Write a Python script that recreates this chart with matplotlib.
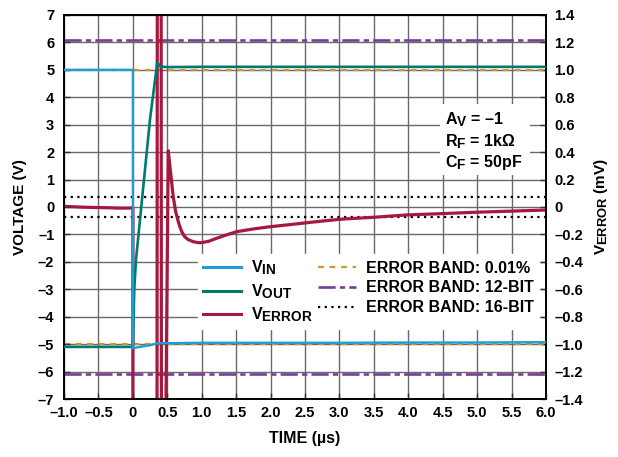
import matplotlib
matplotlib.use('Agg')
import matplotlib.pyplot as plt
import matplotlib._mathtext as _mt
from matplotlib.lines import Line2D
from matplotlib.patches import Rectangle

_mt.SHRINK_FACTOR = 0.85

plt.rcParams['font.family'] = ['Liberation Sans', 'DejaVu Sans']
plt.rcParams['font.weight'] = 'bold'
plt.rcParams['mathtext.fontset'] = 'custom'
plt.rcParams['mathtext.rm'] = 'Liberation Sans:bold'
plt.rcParams['mathtext.it'] = 'Liberation Sans:bold'
plt.rcParams['mathtext.bf'] = 'Liberation Sans:bold'

# ---------------- data ----------------
t_vin = [-1.0, 0.0, 0.0, 0.1, 0.25, 0.35, 1.0, 2.0, 3.0, 4.0, 5.0, 6.0]
v_in = [5.0, 5.0, -5.15, -5.1, -5.04, -4.97, -4.95, -4.95, -4.95, -4.94, -4.94, -4.93]

t_vout = [-1.0, 0.0, 0.02, 0.045, 0.248, 0.354, 0.40, 0.5, 1.0, 2.0, 3.0, 4.0, 5.0, 6.0]
v_out = [-5.1, -5.1, -3.0, -1.93, 3.18, 5.27, 5.12, 5.1, 5.11, 5.11, 5.11, 5.11, 5.11, 5.11]

t_err = [-1.0, -0.8, -0.6, -0.4, -0.2, -0.05, 0.0, 0.0, 0.35, 0.355, 0.41, 0.415,
         0.47, 0.514, 0.55, 0.586, 0.62, 0.65, 0.68, 0.71, 0.75, 0.8, 0.877, 0.95,
         1.0, 1.1, 1.216, 1.35, 1.507, 1.75, 1.99, 2.25, 2.52, 2.8, 3.0, 3.15, 3.5,
         3.97, 4.5, 4.94, 5.5, 6.0]
v_err = [0.005, 0.0, -0.003, -0.005, -0.008, -0.008, -0.005, -2.0, -2.0, 2.0, 2.0, -2.0,
         -2.0, 0.41, 0.24, 0.075, -0.03, -0.09, -0.14, -0.18, -0.215, -0.237, -0.253, -0.26,
         -0.26, -0.25, -0.228, -0.205, -0.18, -0.16, -0.144, -0.13, -0.115, -0.1, -0.09,
         -0.085, -0.075, -0.058, -0.048, -0.039, -0.03, -0.022]

band_001 = 1.0      # mV, 0.01% error band
band_12 = 1.22      # mV, 12-bit error band
band_16 = 0.0763    # mV, 16-bit error band

x_ticks = [-1.0, -0.5, 0, 0.5, 1.0, 1.5, 2.0, 2.5, 3.0, 3.5, 4.0, 4.5, 5.0, 5.5, 6.0]
x_labels = ['–1.0', '–0.5', '0', '0.5', '1.0', '1.5', '2.0', '2.5', '3.0', '3.5',
            '4.0', '4.5', '5.0', '5.5', '6.0']
yl_ticks = list(range(-7, 8))
yl_labels = ['–7', '–6', '–5', '–4', '–3', '–2', '–1', '0', '1', '2', '3', '4', '5', '6', '7']
yr_ticks = [-1.4, -1.2, -1.0, -0.8, -0.6, -0.4, -0.2, 0, 0.2, 0.4, 0.6, 0.8, 1.0, 1.2, 1.4]
yr_labels = ['–1.4', '–1.2', '–1.0', '–0.8', '–0.6', '–0.4', '–0.2', '0', '0.2', '0.4',
             '0.6', '0.8', '1.0', '1.2', '1.4']

c_vin = '#1a9fd8'
c_vout = '#007a70'
c_err = '#a6193f'
c_gold = '#c8972e'
c_purple = '#7a3d96'

# ---------------- figure ----------------
fig = plt.figure(figsize=(6.18, 4.57), dpi=100)
ax = fig.add_axes([0.1036, 0.1269, 0.7799, 0.8403])
ax2 = ax.twinx()
ax.set_zorder(2)
ax2.set_zorder(1)
ax.patch.set_visible(False)

ax.set_xlim(-1.0, 6.0)
ax.set_ylim(-7, 7)
ax2.set_ylim(-1.4, 1.4)

# grid on the lower axes
ax2.xaxis.set_visible(True)
ax2.set_xticks(x_ticks)
ax2.tick_params(axis='x', which='both', bottom=False, top=False,
                labelbottom=False, labeltop=False)
ax2.grid(True, color='#6a6a6a', lw=1.0)
ax.grid(False)

# error bands (right axis, mV)
gold_kw = dict(color=c_gold, lw=1.6, dashes=(2.6, 2.6), dash_capstyle='butt', zorder=2)
pur_kw = dict(color=c_purple, lw=1.9, dashes=(6.5, 1.6, 2.0, 1.6), dash_capstyle='butt', zorder=2)
dot_kw = dict(color='black', lw=1.6, dashes=(1, 2), dash_capstyle='butt', zorder=2)
ax2.axhline(band_001, **gold_kw)
ax2.axhline(-band_001, **gold_kw)
ax2.axhline(band_12, **pur_kw)
ax2.axhline(-band_12, **pur_kw)
ax2.axhline(band_16, **dot_kw)
ax2.axhline(-band_16, **dot_kw)

ax2.plot(t_err, v_err, color=c_err, lw=2.3, zorder=3, solid_joinstyle='round')

ax.plot(t_vout, v_out, color=c_vout, lw=1.9, zorder=3)
ax.plot(t_vin, v_in, color=c_vin, lw=1.7, zorder=4)

# ticks
ax.set_xticks(x_ticks)
ax.set_xticklabels(x_labels)
ax.set_yticks(yl_ticks)
ax.set_yticklabels(yl_labels)
ax2.set_yticks(yr_ticks)
ax2.set_yticklabels(yr_labels)
for a in (ax, ax2):
    a.tick_params(axis='y', direction='in', length=4, width=1.0, color='#333333', labelsize=10.5)
    for s in a.spines.values():
        s.set_linewidth(1.2)
        s.set_color('black')
ax.tick_params(axis='x', direction='in', length=4, width=1.0, color='#333333', labelsize=10.5, pad=5)
ax.tick_params(axis='y', pad=7)
ax2.tick_params(axis='y', pad=6)

ax.set_xlabel('TIME (µs)', fontsize=11.5, fontweight='bold', labelpad=8)
ax.set_ylabel('VOLTAGE (V)', fontsize=11, fontweight='bold', labelpad=8)
ax2.set_ylabel('V$_\\mathrm{ERROR}$ (mV)', fontsize=11, fontweight='bold', labelpad=6)

# annotation box
ax.add_patch(Rectangle((0.78, 0.583), 0.187, 0.186, transform=ax.transAxes,
                       facecolor='white', edgecolor='none', zorder=5))
ann_y = [0.727, 0.671, 0.616]
ann_txt = ['A$_\\mathrm{V}$ = –1', 'R$_\\mathrm{F}$ = 1kΩ', 'C$_\\mathrm{F}$ = 50pF']
for yy, tx in zip(ann_y, ann_txt):
    ax.text(0.7905, yy, tx, transform=ax.transAxes, fontsize=11.5, fontweight='bold',
            ha='left', va='center', zorder=6)

# legend
handles = [
    Line2D([], [], color=c_vin, lw=2.2),
    Line2D([], [], color=c_vout, lw=2.2),
    Line2D([], [], color=c_err, lw=2.2),
    Line2D([], [], **{k: v for k, v in gold_kw.items() if k != 'zorder'}),
    Line2D([], [], **{k: v for k, v in pur_kw.items() if k != 'zorder'}),
    Line2D([], [], **{k: v for k, v in dot_kw.items() if k != 'zorder'}),
]
labels = ['V$_\\mathrm{IN}$', 'V$_\\mathrm{OUT}$', 'V$_\\mathrm{ERROR}$',
          'ERROR BAND: 0.01%', 'ERROR BAND: 12-BIT', 'ERROR BAND: 16-BIT']
leg = ax.legend(handles, labels, ncol=2, loc='upper left', bbox_to_anchor=(0.278, 0.378),
                fontsize=11.5, frameon=True, fancybox=False, framealpha=1.0,
                edgecolor='white', facecolor='white', handlelength=2.4,
                handletextpad=0.6, columnspacing=0.35, labelspacing=0.3,
                borderpad=0.3, borderaxespad=0.0)
leg.set_zorder(10)

fig.savefig('out.png', dpi=100)
